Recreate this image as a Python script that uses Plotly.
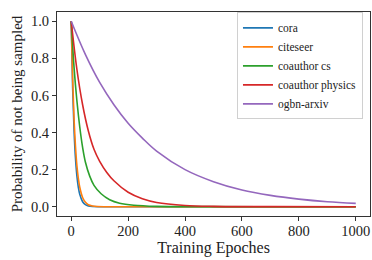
import plotly.graph_objects as go

# ---- data ----
series_names = ["cora", "citeseer", "coauthor cs", "coauthor physics", "ogbn-arxiv"]
series_colors = ["#1f77b4", "#ff7f0e", "#2ca02c", "#d62728", "#9467bd"]

cora_x = [0, 5, 10, 15, 20, 25, 30, 40, 50, 60, 75, 100, 150, 300, 600, 1000]
cora_y = [1.0, 0.64, 0.41, 0.26, 0.165, 0.105, 0.067, 0.027, 0.011, 0.0045, 0.0012, 0.0001, 0, 0, 0, 0]

citeseer_x = [0, 5, 10, 15, 20, 25, 30, 40, 50, 60, 75, 90, 120, 200, 400, 700, 1000]
citeseer_y = [1.0, 0.69, 0.47, 0.325, 0.22, 0.153, 0.105, 0.05, 0.024, 0.011, 0.004, 0.0012, 0.0001, 0, 0, 0, 0]

cs_x = [0, 10, 20, 30, 40, 50, 65, 80, 105, 135, 170, 220, 300, 450, 700, 1000]
cs_y = [1.0, 0.75, 0.57, 0.43, 0.32, 0.24, 0.165, 0.115, 0.07, 0.038, 0.019, 0.008, 0.002, 0.0003, 0, 0]

phys_x = [0, 20, 40, 60, 80, 100, 125, 150, 200, 250, 300, 400, 500, 700, 1000]
phys_y = [1.0, 0.74, 0.55, 0.41, 0.31, 0.245, 0.185, 0.14, 0.078, 0.043, 0.023, 0.007, 0.002, 0.0003, 0]

arxiv_x = [0, 50, 100, 150, 200, 250, 300, 400, 500, 600, 700, 800, 900, 1000]
arxiv_y = [1.0, 0.82, 0.67, 0.55, 0.45, 0.37, 0.30, 0.20, 0.135, 0.09, 0.061, 0.041, 0.027, 0.018]

series_x = [cora_x, citeseer_x, cs_x, phys_x, arxiv_x]
series_y = [cora_y, citeseer_y, cs_y, phys_y, arxiv_y]

x_ticks = [0, 200, 400, 600, 800, 1000]
y_ticks = [0.0, 0.2, 0.4, 0.6, 0.8, 1.0]

FONT = "Liberation Serif"

fig = go.Figure()
for name, color, xs, ys in zip(series_names, series_colors, series_x, series_y):
    fig.add_trace(go.Scatter(
        x=xs, y=ys, mode="lines", name=name,
        line=dict(color=color, width=1.6, shape="spline", smoothing=1.0),
    ))

axis_common = dict(
    showline=True, linecolor="#333333", linewidth=1, mirror=True,
    ticks="outside", ticklen=4, tickcolor="#333333", tickwidth=1,
    showgrid=False, zeroline=False,
)

fig.update_layout(
    width=372, height=260,
    margin=dict(l=57, r=2, t=12, b=44),
    paper_bgcolor="white", plot_bgcolor="white",
    font=dict(family=FONT, color="#222222", size=14),
    xaxis=dict(
        range=[-50, 1050], tickvals=x_ticks,
        tickfont=dict(family=FONT, size=14.5, color="#222222"),
        ticklabelstandoff=-2,
        title=dict(text="Training Epoches", font=dict(family=FONT, size=16), standoff=0),
        **axis_common,
    ),
    yaxis=dict(
        range=[-0.05, 1.05], tickvals=y_ticks, tickformat=".1f",
        tickfont=dict(family=FONT, size=14.5, color="#222222"),
        title=dict(text="Probability of not being sampled", font=dict(family=FONT, size=15), standoff=4),
        **axis_common,
    ),
    legend=dict(
        x=0.575, y=0.998, xanchor="left", yanchor="top",
        bgcolor="white", bordercolor="#d0d0d0", borderwidth=1,
        font=dict(family=FONT, size=11.5, color="#222222"),
        itemwidth=30, tracegroupgap=0,
    ),
    showlegend=True,
)

fig.write_html(
    "out.html",
    config={"displayModeBar": False},
    post_script="document.body.style.margin='0';",
)
